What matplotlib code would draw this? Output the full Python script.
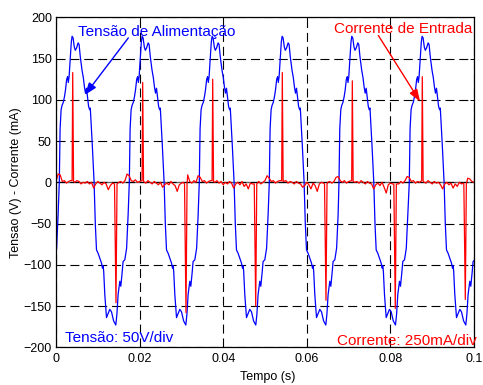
import numpy as np
import matplotlib
matplotlib.use("Agg")
import matplotlib.pyplot as plt

plt.rcParams['font.family'] = ['Liberation Sans', 'DejaVu Sans']
plt.rcParams['lines.scale_dashes'] = False

# ---------------------------------------------------------------- data
# rising zero crossings of the supply voltage (s)
cycle_starts = [-0.01596, 0.00079, 0.01754, 0.03428, 0.05103, 0.06770, 0.08452]

# one period of the supply voltage: offset from the rising crossing (ms) and value (V)
cycle_ms = [0.000, 0.191, 0.431, 0.646, 0.957, 1.244, 1.483, 1.770, 1.986, 2.153,
            2.344, 2.632, 2.871, 3.062, 3.301, 3.589, 3.828, 4.139, 4.498, 4.737,
            5.024, 5.431, 5.742, 6.029, 6.268, 6.507, 6.746, 7.009, 7.249, 7.416,
            7.895, 8.325,
            8.612, 8.899, 9.282, 9.617, 10.096, 10.335, 10.478, 10.622, 10.885,
            11.292, 11.675, 12.081, 12.488, 12.990, 13.517, 13.780, 14.067, 14.474,
            14.713, 15.024, 15.263, 15.670, 16.100, 16.459]
cycle_v = [0, 65, 88, 93, 97, 104, 112, 125, 128, 121,
           128, 150, 170, 177, 175, 164, 160, 163, 169, 167,
           152, 136, 127, 115, 108, 114, 104, 92, 88, 90,
           45, 0,
           -50, -82, -86, -91, -98, -104, -101, -108, -136,
           -164, -159, -154, -157, -168, -173, -160, -136, -120,
           -126, -110, -96, -94, -80, -40]

# input current baseline, one sample every 0.5 ms (mA)
cur_step = 0.0005
cur_base = [1, 10, 9, 1, 2, -1, 1, 2, 1, 0,
            2, 1, -2, 0, -1, 1, -2, 0, -7, -2,
            1, -1, -3, 0, -2, -9, -4, -1, -2, -1,
            0, 1, -1, 2, 10, 8, 2, 1, 3, 0,
            1, 2, 1, -1, 2, 0, -2, 1, -1, -3,
            0, -6, -3, -1, -3, 1, -2, -4, -11, -3,
            -1, 0, -2, 9, 1, -1, 2, 0, 8, 6,
            1, 2, -1, 1, 2, 1, 0, 2, -1, 1,
            -3, 0, -2, 1, -1, -7, -2, 0, -3, 1,
            -5, -2, -8, -1, -2, 0, -1, 1, -2, 0,
            2, 8, 5, 1, 2, -1, 1, 2, 1, 0,
            2, -1, 1, 0, -2, 1, -1, -2, -6, -4,
            0, -3, -8, -1, -4, -11, -2, 0, -1, -2,
            0, 1, -1, 1, 6, 7, 2, 0, 2, -1,
            1, 2, 1, 0, 1, -1, 2, 0, -2, 1,
            -1, -2, -8, -3, -1, -4, 0, -6, -13, -3,
            -1, -2, -1, 0, -2, 1, -1, 2, 7, 6,
            1, 2, -1, 1, 0, 2, 1, -1, 2, 0,
            -2, 1, -1, 0, -3, -8, -2, 0, -3, -1,
            -7, -2, -5, 0, -2, -1, -2, 5, 4, 1,
            0]

# current pulses: instant (s) and peak (mA)
pos_spike_t = [0.00400, 0.02074, 0.03749, 0.05414, 0.07089, 0.08763]
pos_spike_i = [133, 121, 125, 133, 123, 128]
neg_spike_t = [0.01435, 0.03110, 0.04778, 0.06459, 0.08117, 0.09792]
neg_spike_i = [-146, -158, -150, -143, -153, -142]

# ---------------------------------------------------------------- traces
volt_t = np.concatenate([s + np.asarray(cycle_ms) / 1000.0 for s in cycle_starts])
volt_v = np.tile(np.asarray(cycle_v, dtype=float), len(cycle_starts))

base_t = np.arange(len(cur_base)) * cur_step
base_i = np.asarray(cur_base, dtype=float)
keep = np.ones(len(base_t), bool)
for ts in list(pos_spike_t) + list(neg_spike_t):
    keep &= np.abs(base_t - ts) > 0.0004
pts_t = list(base_t[keep])
pts_i = list(base_i[keep])
for ts, pk in zip(pos_spike_t, pos_spike_i):
    pts_t += [ts - 0.00015, ts, ts + 0.0002]
    pts_i += [2, pk, 1]
for ts, pk in zip(neg_spike_t, neg_spike_i):
    pts_t += [ts - 0.00035, ts, ts + 0.00025]
    pts_i += [-2, pk, -2]
order = np.argsort(pts_t)
cur_t = np.asarray(pts_t)[order]
cur_i = np.asarray(pts_i)[order]

# ---------------------------------------------------------------- figure
W, H = 483, 385
fig = plt.figure(figsize=(W / 100, H / 100), dpi=100)
ax = fig.add_axes([56 / W, 1 - 347.3 / H, 418 / W, 330 / H])

ax.axhline(0, color='0.4', lw=1.0, zorder=1)
ax.plot(volt_t, volt_v, color='#0000ff', lw=0.9, zorder=3)
ax.plot(cur_t, cur_i, color='#ff0000', lw=0.9, zorder=4)

ax.set_xlim(0, 0.1)
ax.set_ylim(-200, 200)
ax.set_xticks([0, 0.02, 0.04, 0.06, 0.08, 0.1])
ax.set_xticklabels(['0', '0.02', '0.04', '0.06', '0.08', '0.1'])
ax.set_yticks(np.arange(-200, 201, 50))
ax.tick_params(direction='in', length=3, width=0.7, top=True, right=True,
               labelsize=9, colors='black')
ax.tick_params(axis='y', pad=3)
ax.tick_params(axis='x', pad=4)
ax.grid(True, color='black', lw=0.8, linestyle=(0, (6.5, 3.5)), zorder=2)
for sp in ax.spines.values():
    sp.set_linewidth(0.9)
    sp.set_zorder(5)

fig.text(16.5 / W, 1 - 183 / H, 'Tensao (V) - Corrente (mA)', rotation=90,
         ha='center', va='center', fontsize=9)
fig.text(268 / W, 1 - 377 / H, 'Tempo (s)', ha='center', va='center', fontsize=9)

fig.text(78 / W, 1 - 36 / H, 'Tensão de Alimentação', color='#0000ff',
         fontsize=11, ha='left', va='baseline')
fig.text(334 / W, 1 - 33.3 / H, 'Corrente de Entrada', color='#ff0000',
         fontsize=11, ha='left', va='baseline')
fig.text(65 / W, 1 - 341.7 / H, 'Tensão: 50V/div', color='#0000ff',
         fontsize=11, ha='left', va='baseline')
fig.text(336.7 / W, 1 - 345 / H, 'Corrente: 250mA/div', color='#ff0000',
         fontsize=11, ha='left', va='baseline', zorder=6)

ax.annotate('', xy=(0.00694, 106), xytext=(0.01730, 175),
            arrowprops=dict(arrowstyle='-|>,head_length=0.6,head_width=0.22',
                            color='#0000ff', lw=1.0, mutation_scale=12,
                            shrinkA=0, shrinkB=0), zorder=6)
ax.annotate('', xy=(0.08708, 98), xytext=(0.07711, 178),
            arrowprops=dict(arrowstyle='-|>,head_length=0.6,head_width=0.22',
                            color='#ff0000', lw=1.0, mutation_scale=12,
                            shrinkA=0, shrinkB=0), zorder=6)

fig.savefig('out.png', dpi=100)
